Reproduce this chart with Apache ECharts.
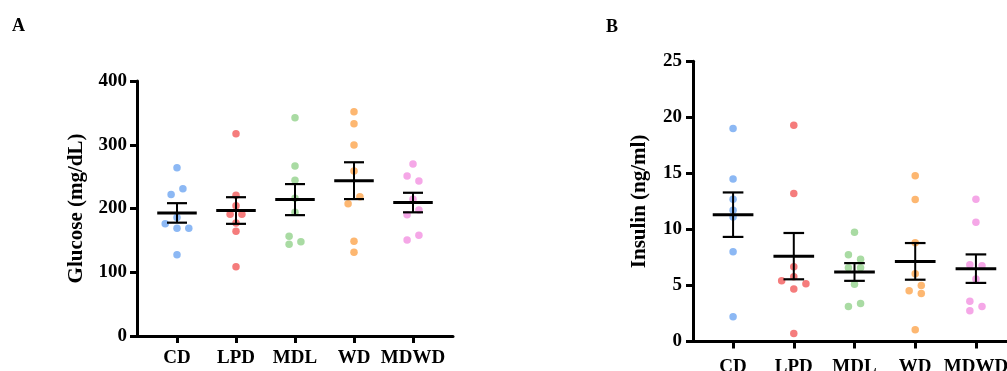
<!DOCTYPE html>
<html>
<head>
<meta charset="utf-8">
<script src="https://cdn.jsdelivr.net/npm/echarts@6/dist/echarts.min.js"></script>
<style>
  html, body { margin: 0; padding: 0; background: #ffffff; }
  #chart { width: 1007px; height: 371px; }
</style>
</head>
<body>
<div id="chart"></div>
<script>
// Diet groups and their dot colours
const groups = ['CD', 'LPD', 'MDL', 'WD', 'MDWD'];
const groupColors = ['#8cb8f4', '#f57c7c', '#a9dba3', '#fdb771', '#f5a7e7'];

// Panel A: fasting glucose (mg/dL), one value per animal
const glucoseCD   = [264, 231, 222, 186, 176, 169, 169, 127.5];
const glucoseLPD  = [317.4, 220.7, 204.4, 190.9, 190.9, 177.3, 164.2, 108.8];
const glucoseMDL  = [342.5, 266.7, 244.2, 216, 194, 156.4, 143.8, 147.9];
const glucoseWD   = [351.9, 333, 299.6, 258.8, 218.5, 207.5, 148.5, 131.3];
const glucoseMDWD = [269.8, 251, 243.1, 214.4, 190.3, 197.6, 157.9, 150.6];

// Panel B: insulin (ng/ml), one value per animal
const insulinCD   = [19.0, 14.5, 12.7, 11.7, 11.1, 8.0, 2.2];
const insulinLPD  = [19.3, 13.2, 6.67, 5.78, 5.42, 5.15, 4.68, 0.72];
const insulinMDL  = [9.75, 7.75, 7.33, 6.58, 6.58, 5.1, 3.13, 3.4];
const insulinWD   = [14.79, 12.67, 8.82, 6.05, 5.0, 4.53, 4.29, 1.04];
const insulinMDWD = [12.7, 10.64, 6.85, 6.76, 5.57, 3.6, 3.13, 2.74];

// Axis ticks
const glucoseTicks = [0, 100, 200, 300, 400];
const insulinTicks = [0, 5, 10, 15, 20, 25];

// Horizontal spread of overlapping dots, in category widths
const glucoseSpread = [
  [0, 0.1, -0.1, 0, -0.2, 0, 0.2, 0],
  [0, 0, 0, -0.1, 0.1, 0, 0, 0],
  [0, 0, 0, 0, 0, -0.1, -0.1, 0.1],
  [0, 0, 0, 0, 0.1, -0.1, 0, 0],
  [0, -0.1, 0.1, 0, -0.1, 0.1, 0.1, -0.1]
];
const insulinSpread = [
  [0, 0, 0, 0, 0, 0, 0],
  [0, 0, 0, 0, -0.2, 0.2, 0, 0],
  [0, -0.1, 0.1, -0.1, 0.1, 0, -0.1, 0.1],
  [0, 0, 0, 0, 0.1, -0.1, 0.1, 0],
  [0, 0, -0.1, 0.1, 0, -0.1, 0.1, -0.1]
];

const glucoseGroups = [glucoseCD, glucoseLPD, glucoseMDL, glucoseWD, glucoseMDWD];
const insulinGroups = [insulinCD, insulinLPD, insulinMDL, insulinWD, insulinMDWD];

const FONT = 'Liberation Serif';
const textBase = { fontFamily: FONT, fontWeight: 'bold', color: '#000', fontSize: 19 };

// mean and standard error of the mean
function meanSem(vals) {
  const n = vals.length;
  const m = vals.reduce((a, b) => a + b, 0) / n;
  const v = vals.reduce((a, b) => a + (b - m) * (b - m), 0) / (n - 1);
  return [m, Math.sqrt(v) / Math.sqrt(n)];
}

function dotSeries(groupVals, spread, axisIndex) {
  return groupVals.map((vals, gi) => ({
    type: 'scatter',
    xAxisIndex: axisIndex,
    yAxisIndex: axisIndex,
    symbol: 'circle',
    symbolSize: 7.5,
    itemStyle: { color: groupColors[gi], opacity: 1 },
    emphasis: { disabled: true },
    z: 2,
    data: vals.map((v, k) => [gi + spread[gi][k], v])
  }));
}

function errorSeries(groupVals, axisIndex) {
  const data = groupVals.map((vals, gi) => {
    const ms = meanSem(vals);
    return [gi, ms[0], ms[1]];
  });
  return {
    type: 'custom',
    xAxisIndex: axisIndex,
    yAxisIndex: axisIndex,
    z: 3,
    silent: true,
    data: data,
    renderItem: function (params, api) {
      const i = api.value(0), m = api.value(1), s = api.value(2);
      const seg = (x0, y0, x1, y1, w) => {
        const p0 = api.coord([x0, y0]);
        const p1 = api.coord([x1, y1]);
        return {
          type: 'line',
          shape: { x1: p0[0], y1: p0[1], x2: p1[0], y2: p1[1] },
          style: { stroke: '#000', lineWidth: w }
        };
      };
      const capHalf = 0.17, meanHalf = 0.335;
      return {
        type: 'group',
        children: [
          seg(i, m - s, i, m + s, 2),
          seg(i - capHalf, m + s, i + capHalf, m + s, 2.2),
          seg(i - capHalf, m - s, i + capHalf, m - s, 2.2),
          seg(i - meanHalf, m, i + meanHalf, m, 3)
        ]
      };
    }
  };
}

function xAxisFor(gridIndex, pad, labelMargin) {
  return {
    type: 'value',
    gridIndex: gridIndex,
    min: -pad,
    max: 4 + pad,
    splitLine: { show: false },
    axisLine: { show: true, onZero: false, lineStyle: { color: '#000', width: 3 } },
    axisTick: { show: true, length: 7, lineStyle: { color: '#000', width: 3 }, customValues: [0, 1, 2, 3, 4] },
    axisLabel: Object.assign({}, textBase, {
      margin: labelMargin,
      customValues: [0, 1, 2, 3, 4],
      formatter: v => groups[Math.round(v)]
    })
  };
}

function yAxisFor(gridIndex, ticks, name, gap, labelMargin) {
  return {
    type: 'value',
    gridIndex: gridIndex,
    min: ticks[0],
    max: ticks[ticks.length - 1],
    interval: ticks[1] - ticks[0],
    name: name,
    nameLocation: 'middle',
    nameGap: gap,
    nameRotate: 90,
    nameTextStyle: Object.assign({}, textBase, { fontSize: 21 }),
    splitLine: { show: false },
    axisLine: { show: true, onZero: false, lineStyle: { color: '#000', width: 3 } },
    axisTick: { show: true, length: 7, lineStyle: { color: '#000', width: 3 } },
    axisLabel: Object.assign({}, textBase, { margin: labelMargin })
  };
}

const chart = echarts.init(document.getElementById('chart'), null, { renderer: 'canvas' });

chart.setOption({
  backgroundColor: '#ffffff',
  animation: false,
  title: [
    { text: 'A', left: 12, top: 17, padding: 0, textStyle: Object.assign({}, textBase, { fontSize: 18 }) },
    { text: 'B', left: 606, top: 18, padding: 0, textStyle: Object.assign({}, textBase, { fontSize: 18 }) }
  ],
  grid: [
    { left: 137, top: 81, width: 316, height: 255, outerBoundsMode: 'none' },
    { left: 693, top: 61.3, width: 323, height: 280.2, outerBoundsMode: 'none' }
  ],
  xAxis: [xAxisFor(0, 0.678, 13), xAxisFor(1, 0.66, 16)],
  yAxis: [
    yAxisFor(0, glucoseTicks, 'Glucose (mg/dL)', 50, 10),
    yAxisFor(1, insulinTicks, 'Insulin (ng/ml)', 43, 11)
  ],
  series: [].concat(
    dotSeries(glucoseGroups, glucoseSpread, 0),
    [errorSeries(glucoseGroups, 0)],
    dotSeries(insulinGroups, insulinSpread, 1),
    [errorSeries(insulinGroups, 1)]
  )
});
</script>
</body>
</html>
